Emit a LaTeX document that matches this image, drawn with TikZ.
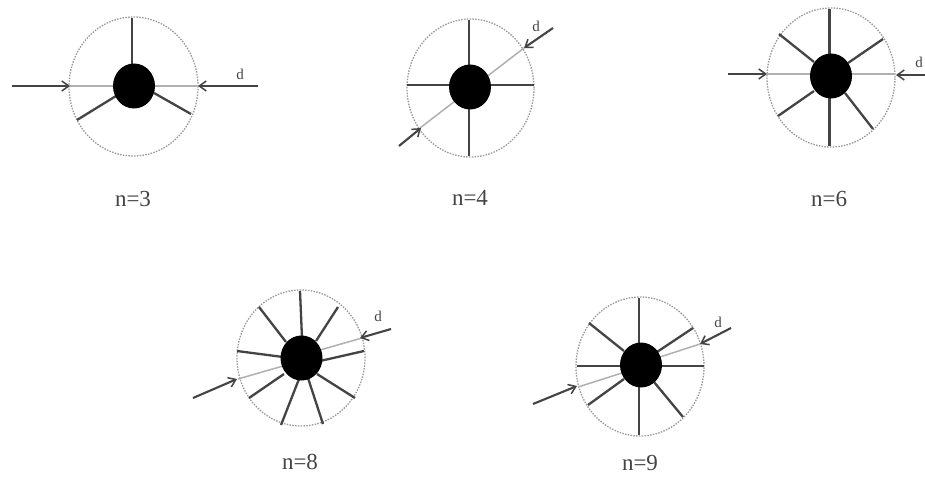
\documentclass[tikz,border=0pt]{standalone}
\usepackage{fontspec}
\setmainfont{Liberation Serif}
\usetikzlibrary{arrows.meta,shapes.geometric}
\definecolor{ink}{HTML}{444444}
\definecolor{pale}{HTML}{B0B0B0}
\definecolor{rimc}{HTML}{9A9A9A}
\tikzset{
  x=1pt,y=-1pt,
  hub/.style={ellipse,fill=black,draw=none,inner sep=0pt},
  rim/.style={ellipse,draw=rimc,line width=1.3pt,dash pattern=on 1.5pt off 1.3pt,inner sep=0pt},
  spoke/.style={draw=ink,line width=2.3pt},
  chord/.style={draw=pale,line width=1.5pt},
  feed/.style={draw=ink,line width=2.1pt,-{Straight Barb[length=7pt,width=10pt,line width=1.5pt]}},
  caption/.style={font=\fontsize{23}{23}\selectfont,text=ink,inner sep=0pt},
  dlabel/.style={font=\fontsize{15}{15}\selectfont,text=ink,inner sep=0pt}
}
\newcommand{\figrim}[5]{\node[rim,minimum width=#4pt,minimum height=#5pt] (#1) at (#2,#3) {};}
\newcommand{\figspoke}[3]{\coordinate (#1a) at (#2); \coordinate (#1b) at (#3); \draw[spoke] (#1a) -- (#1b);}
\newcommand{\figchord}[3]{\coordinate (#1a) at (#2); \coordinate (#1b) at (#3); \draw[chord] (#1a) -- (#1b);}
\newcommand{\figfeed}[3]{\coordinate (#1a) at (#2); \coordinate (#1b) at (#3); \draw[feed] (#1a) -- (#1b);}
\newcommand{\fighub}[3]{\node[hub,minimum width=42pt,minimum height=45pt] (#1) at (#2,#3) {};}
\begin{document}
\begin{tikzpicture}
\useasboundingbox (0,0) rectangle (925,476);
\fill[white] (0,0) rectangle (925,476);
% n=3
\figrim{ra}{133.5}{86.5}{129}{139}
\figchord{aca}{70,86}{197,86}
\figspoke{asa}{132,18}{132,65}
\figspoke{asb}{77,120}{116,96}
\figspoke{asc}{191,114}{154,93}
\fighub{ha}{134}{86}
\figfeed{afa}{12,86}{70,86}
\figfeed{afb}{258,86}{198,86}
\node[dlabel] (da) at (240,74) {d};
\node[caption] (na) at (133,199) {n=3};
% n=4
\figrim{rb}{470.5}{88}{127}{138}
\figchord{bca}{420,128}{524,48}
\figspoke{bsa}{469,20}{469,66}
\figspoke{bsb}{469,108}{469,156}
\figspoke{bsc}{407,85}{450,85}
\figspoke{bsd}{490,85}{534,85}
\fighub{hb}{470}{87}
\figfeed{bfa}{399,146}{421,128}
\figfeed{bfb}{553,28}{524,48}
\node[dlabel] (db) at (536,26) {d};
\node[caption] (nb) at (470,198) {n=4};
% n=6
\figrim{rc}{831}{77.5}{128}{139}
\figchord{cca}{767,74}{895,74}
\figspoke{csa}{829.5,9}{829.5,55}
\figspoke{csb}{829.5,97}{829.5,146}
\figspoke{csc}{779,34}{814,62}
\figspoke{csd}{883,39}{848,63}
\figspoke{cse}{778,116}{814,91}
\figspoke{csf}{873,129}{845,93}
\fighub{hc}{831}{76}
\figfeed{cfa}{728,74}{767,74}
\figfeed{cfb}{925,75}{896,75}
\node[dlabel] (dc) at (919,62) {d};
\node[caption] (nc) at (829,199) {n=6};
% n=8
\figrim{rd}{301}{358}{128}{136}
\figchord{dca}{320,350}{362,338}
\figchord{dcb}{238,379}{283,366}
\figspoke{dsa}{300,291}{302,338}
\figspoke{dsb}{259,307}{286,342}
\figspoke{dsc}{338,307}{316,341}
\figspoke{dsd}{237,351}{283,357}
\figspoke{dse}{364,351}{320,361}
\figspoke{dsf}{249,398}{284,374}
\figspoke{dsg}{355,398}{317,374}
\figspoke{dsh}{281,425}{299,379}
\figspoke{dsi}{323,424}{308,378}
\fighub{hd}{301.5}{358}
\figfeed{dfa}{193,398}{237,379}
\figfeed{dfb}{391,329}{360,338}
\node[dlabel] (dd) at (378,316) {d};
\node[caption] (nd) at (300,462) {n=8};
% n=9
\figrim{re}{640}{366.5}{128}{139}
\figchord{eca}{660,357}{700,344}
\figchord{ecb}{578,387}{622,373}
\figspoke{esa}{639,298}{639,345}
\figspoke{esb}{639,385}{639,435}
\figspoke{esc}{577,366}{622,366}
\figspoke{esd}{660,366}{704,366}
\figspoke{ese}{589,323}{624,351}
\figspoke{esf}{693,328}{657,352}
\figspoke{esg}{588,405}{624,379}
\figspoke{esh}{683,417}{654,382}
\fighub{he}{641}{365}
\figfeed{efa}{533,404}{577,386}
\figfeed{efb}{731,328}{700,344}
\node[dlabel] (de) at (718,322) {d};
\node[caption] (ne) at (640,463) {n=9};
\end{tikzpicture}
\end{document}
